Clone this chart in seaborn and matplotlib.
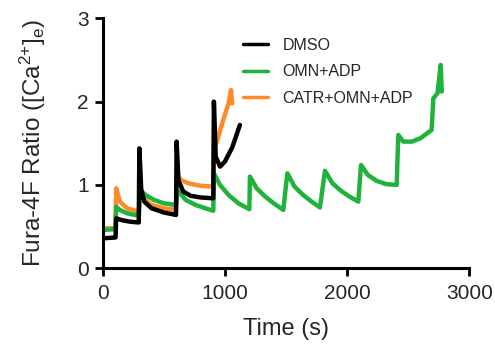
import numpy as np
import pandas as pd
import matplotlib
matplotlib.use("Agg")
import matplotlib.pyplot as plt
import seaborn as sns

# ---- data ----
labels = ["DMSO", "OMN+ADP", "CATR+OMN+ADP"]
colors = ["#000000", "#1fb33c", "#ff8a2a"]

dmso_t = [0, 105, 110, 150, 220, 295, 300, 315, 340, 400, 500, 600,
          605, 620, 660, 720, 800, 905, 910, 925, 960, 1000, 1060, 1123]
dmso_v = [0.36, 0.37, 0.60, 0.58, 0.56, 0.55, 1.44, 0.95, 0.80, 0.72, 0.67, 0.64,
          1.52, 1.05, 0.92, 0.87, 0.85, 0.84, 2.00, 1.34, 1.22, 1.28, 1.45, 1.72]

omn_t = [0, 105, 110, 140, 200, 295, 305, 350, 420, 500, 600,
         610, 680, 760, 840, 905, 910, 960, 1030, 1110, 1200,
         1205, 1260, 1330, 1400, 1478, 1511, 1570, 1640, 1710, 1778,
         1819, 1880, 1950, 2020, 2092, 2114, 2170, 2240, 2320, 2406,
         2419, 2460, 2530, 2600, 2692, 2706, 2740, 2766, 2775]
omn_v = [0.46, 0.47, 0.74, 0.70, 0.66, 0.63, 0.94, 0.88, 0.82, 0.78, 0.76,
         0.94, 0.82, 0.76, 0.72, 0.69, 1.14, 1.00, 0.88, 0.78, 0.71,
         1.10, 0.96, 0.86, 0.78, 0.70, 1.14, 0.98, 0.88, 0.80, 0.73,
         1.17, 1.02, 0.93, 0.86, 0.80, 1.24, 1.12, 1.05, 1.01, 1.00,
         1.60, 1.52, 1.52, 1.56, 1.66, 2.04, 2.10, 2.44, 2.12]

catr_t = [0, 105, 110, 140, 200, 295, 305, 330, 400, 500, 600,
          610, 640, 700, 800, 905, 912, 930, 980, 1030, 1050, 1060]
catr_v = [0.48, 0.48, 0.96, 0.80, 0.72, 0.68, 0.92, 0.84, 0.76, 0.72, 0.70,
          1.12, 1.06, 1.02, 0.99, 0.98, 1.60, 1.50, 1.75, 1.98, 2.14, 1.98]

xticks = [0, 1000, 2000, 3000]
yticks = [0, 1, 2, 3]

df = pd.concat([
    pd.DataFrame({"t": catr_t, "v": catr_v, "cond": labels[2]}),
    pd.DataFrame({"t": omn_t, "v": omn_v, "cond": labels[1]}),
    pd.DataFrame({"t": dmso_t, "v": dmso_v, "cond": labels[0]}),
], ignore_index=True)

sns.set_style("ticks")
plt.rcParams["font.family"] = ["Liberation Sans", "DejaVu Sans"]
plt.rcParams["mathtext.fontset"] = "custom"
plt.rcParams["mathtext.rm"] = "Liberation Sans"
plt.rcParams["mathtext.it"] = "Liberation Sans:italic"
plt.rcParams["mathtext.bf"] = "Liberation Sans:bold"

fig = plt.figure(figsize=(4.95, 3.44), dpi=100)
ax = fig.add_axes([0.2075, 0.22, 0.7405, 0.727])

palette = dict(zip(labels, colors))
sns.lineplot(data=df, x="t", y="v", hue="cond", hue_order=[labels[2], labels[1], labels[0]],
             palette=palette, estimator=None, sort=False, linewidth=3.2, ax=ax, legend=True)

ax.set_xlim(0, 3000)
ax.set_ylim(0, 3)
ax.set_xticks(xticks)
ax.set_yticks(yticks)
ax.tick_params(axis="both", labelsize=15, width=2, length=6, color="black", pad=4)
ax.tick_params(axis="x", pad=5)
for s in ["left", "bottom"]:
    ax.spines[s].set_linewidth(2.2)
    ax.spines[s].set_color("black")
for s in ["top", "right"]:
    ax.spines[s].set_visible(False)

ax.set_xlabel("Time (s)", fontsize=17, labelpad=11)
ax.set_ylabel("Fura-4F Ratio ([Ca$^{2{+}}$]$_{\\mathrm{e}}$)", fontsize=17.5, labelpad=21)

handles, lbls = ax.get_legend_handles_labels()
order = [lbls.index(l) for l in labels]
leg = ax.legend([handles[i] for i in order], [lbls[i] for i in order],
                loc="upper left", bbox_to_anchor=(0.343, 0.98), frameon=False,
                fontsize=11.5, handlelength=1.56, handletextpad=0.94, labelspacing=0.72)
for h in leg.get_lines():
    h.set_linewidth(2.5)

fig.savefig("out.png", dpi=100)
